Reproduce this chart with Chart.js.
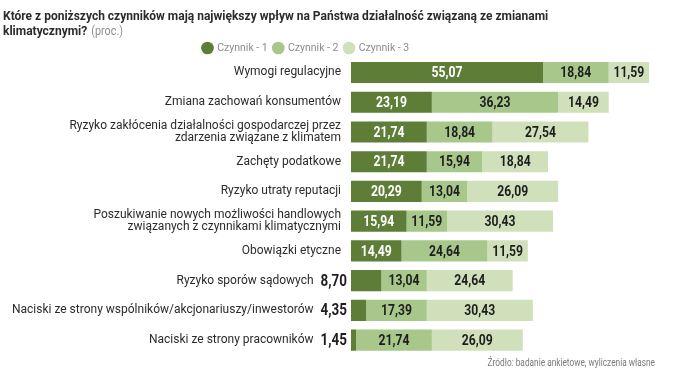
<!DOCTYPE html>
<html>
<head>
<meta charset="utf-8">
<script src="https://cdn.jsdelivr.net/npm/chart.js@4/dist/chart.umd.min.js"></script>
<style>
html,body{margin:0;padding:0;background:#fff;}
#wrap{width:678px;height:382px;position:relative;}
</style>
</head>
<body>
<div id="wrap"><canvas id="c" width="678" height="382"></canvas></div>
<script>
const categories = [
  ['Wymogi regulacyjne'],
  ['Zmiana zachowań konsumentów'],
  ['Ryzyko zakłócenia działalności gospodarczej przez', 'zdarzenia związane z klimatem'],
  ['Zachęty podatkowe'],
  ['Ryzyko utraty reputacji'],
  ['Poszukiwanie nowych możliwości handlowych', 'związanych z czynnikami klimatycznymi'],
  ['Obowiązki etyczne'],
  ['Ryzyko sporów sądowych'],
  ['Naciski ze strony wspólników/akcjonariuszy/inwestorów'],
  ['Naciski ze strony pracowników']
];
const seriesNames = ['Czynnik - 1', 'Czynnik - 2', 'Czynnik - 3'];
const czynnik1 = [55.07, 23.19, 21.74, 21.74, 20.29, 15.94, 14.49, 8.70, 4.35, 1.45];
const czynnik2 = [18.84, 36.23, 18.84, 15.94, 13.04, 11.59, 24.64, 13.04, 17.39, 21.74];
const czynnik3 = [11.59, 14.49, 27.54, 18.84, 26.09, 30.43, 11.59, 24.64, 30.43, 26.09];
const titleLines = ['Które z poniższych czynników mają największy wpływ na Państwa działalność związaną ze zmianami', 'klimatycznymi?'];
const titleSuffix = '(proc.)';
const sourceText = 'Źródło: badanie ankietowe, wyliczenia własne';

const colors = ['#5e7e38', '#a8c78a', '#d0e0bb'];
const valueColors = ['#ffffff', '#1e1e1e', '#1e1e1e'];
const fmt = v => v.toFixed(2).replace('.', ',');
const OUTSIDE_LIMIT = 10;

const LABEL_FONT = '12px Roboto';
const VALUE_FONT = 'bold 14.5px Roboto';
const OUT_VALUE_FONT = 'bold 16px Roboto';
const VALUE_SX = 0.84;

function condText(ctx, text, x, y, sx, align) {
  ctx.save();
  ctx.translate(x, y);
  ctx.scale(sx, 1);
  ctx.textAlign = align;
  ctx.fillText(text, 0, 0);
  ctx.restore();
}

const labelPlugin = {
  id: 'labels',
  afterLayout(chart) {
    const lg = chart.legend;
    if (lg) {
      const pad = lg.options.labels.padding;
      const dx = 203 - pad - lg.left;
      const dy = 48 - (lg.top + pad + 5.25);
      lg.left += dx; lg.right += dx; lg.top += dy; lg.bottom += dy;
    }
  },
  afterDatasetsDraw(chart) {
    const ctx = chart.ctx;
    const ys = chart.scales.y;
    const left = chart.chartArea.left;
    ctx.save();
    ctx.textBaseline = 'middle';
    chart.data.datasets.forEach((ds, di) => {
      const meta = chart.getDatasetMeta(di);
      meta.data.forEach((bar, i) => {
        const v = ds.data[i];
        if (di === 0 && v < OUTSIDE_LIMIT) {
          ctx.font = OUT_VALUE_FONT;
          ctx.fillStyle = '#1e1e1e';
          condText(ctx, fmt(v), bar.base - 4, bar.y + 1, VALUE_SX, 'right');
        } else {
          ctx.font = VALUE_FONT;
          ctx.fillStyle = valueColors[di];
          condText(ctx, fmt(v), (bar.x + bar.base) / 2, bar.y + 1, VALUE_SX, 'center');
        }
      });
    });
    categories.forEach((lines, i) => {
      const y = ys.getPixelForValue(i);
      let x = left - 10;
      if (czynnik1[i] < OUTSIDE_LIMIT) {
        ctx.font = OUT_VALUE_FONT;
        x = left - 4 - ctx.measureText(fmt(czynnik1[i])).width * VALUE_SX - 7;
      }
      ctx.font = LABEL_FONT;
      ctx.fillStyle = '#2b2b2b';
      ctx.textAlign = 'right';
      const lh = 12.5;
      const y0 = y - (lines.length - 1) * lh / 2;
      lines.forEach((t, k) => ctx.fillText(t, x, y0 + k * lh));
    });
    ctx.restore();
  },
  afterDraw(chart) {
    const ctx = chart.ctx;
    ctx.save();
    ctx.textBaseline = 'middle';
    ctx.font = 'bold 12px Roboto';
    ctx.fillStyle = '#2b2b2b';
    ctx.textAlign = 'left';
    ctx.fillText(titleLines[0], 3, 17);
    ctx.fillText(titleLines[1], 3, 32);
    const w = ctx.measureText(titleLines[1]).width;
    ctx.font = '12px Roboto';
    ctx.fillStyle = '#8f8f8f';
    condText(ctx, titleSuffix, 3 + w + 4, 32, 0.9, 'left');
    ctx.font = '10px Roboto';
    ctx.fillStyle = '#7a7a7a';
    condText(ctx, sourceText, 655, 363, 0.83, 'right');
    ctx.restore();
  }
};

new Chart(document.getElementById('c'), {
  type: 'bar',
  data: {
    labels: categories,
    datasets: [czynnik1, czynnik2, czynnik3].map((d, i) => ({
      label: seriesNames[i],
      data: d,
      backgroundColor: colors[i],
      borderWidth: 0,
      barPercentage: 0.71,
      categoryPercentage: 1
    }))
  },
  options: {
    indexAxis: 'y',
    responsive: false,
    animation: false,
    events: [],
    layout: { padding: { left: 3, right: 23, top: 31.1, bottom: 27 } },
    scales: {
      x: { stacked: true, display: false, min: 0, max: 87.2 },
      y: {
        stacked: true,
        grid: { display: false },
        border: { display: false },
        ticks: { display: false },
        afterFit(s) { s.width = 348; }
      }
    },
    plugins: {
      tooltip: { enabled: false },
      title: { display: false },
      legend: {
        display: true,
        position: 'top',
        align: 'start',
        labels: {
          usePointStyle: true,
          pointStyle: 'circle',
          boxWidth: 9,
          boxHeight: 9,
          padding: 6,
          color: '#8c8c8c',
          font: { family: 'Roboto', size: 10.5 }
        }
      }
    }
  },
  plugins: [labelPlugin]
});
</script>
</body>
</html>
